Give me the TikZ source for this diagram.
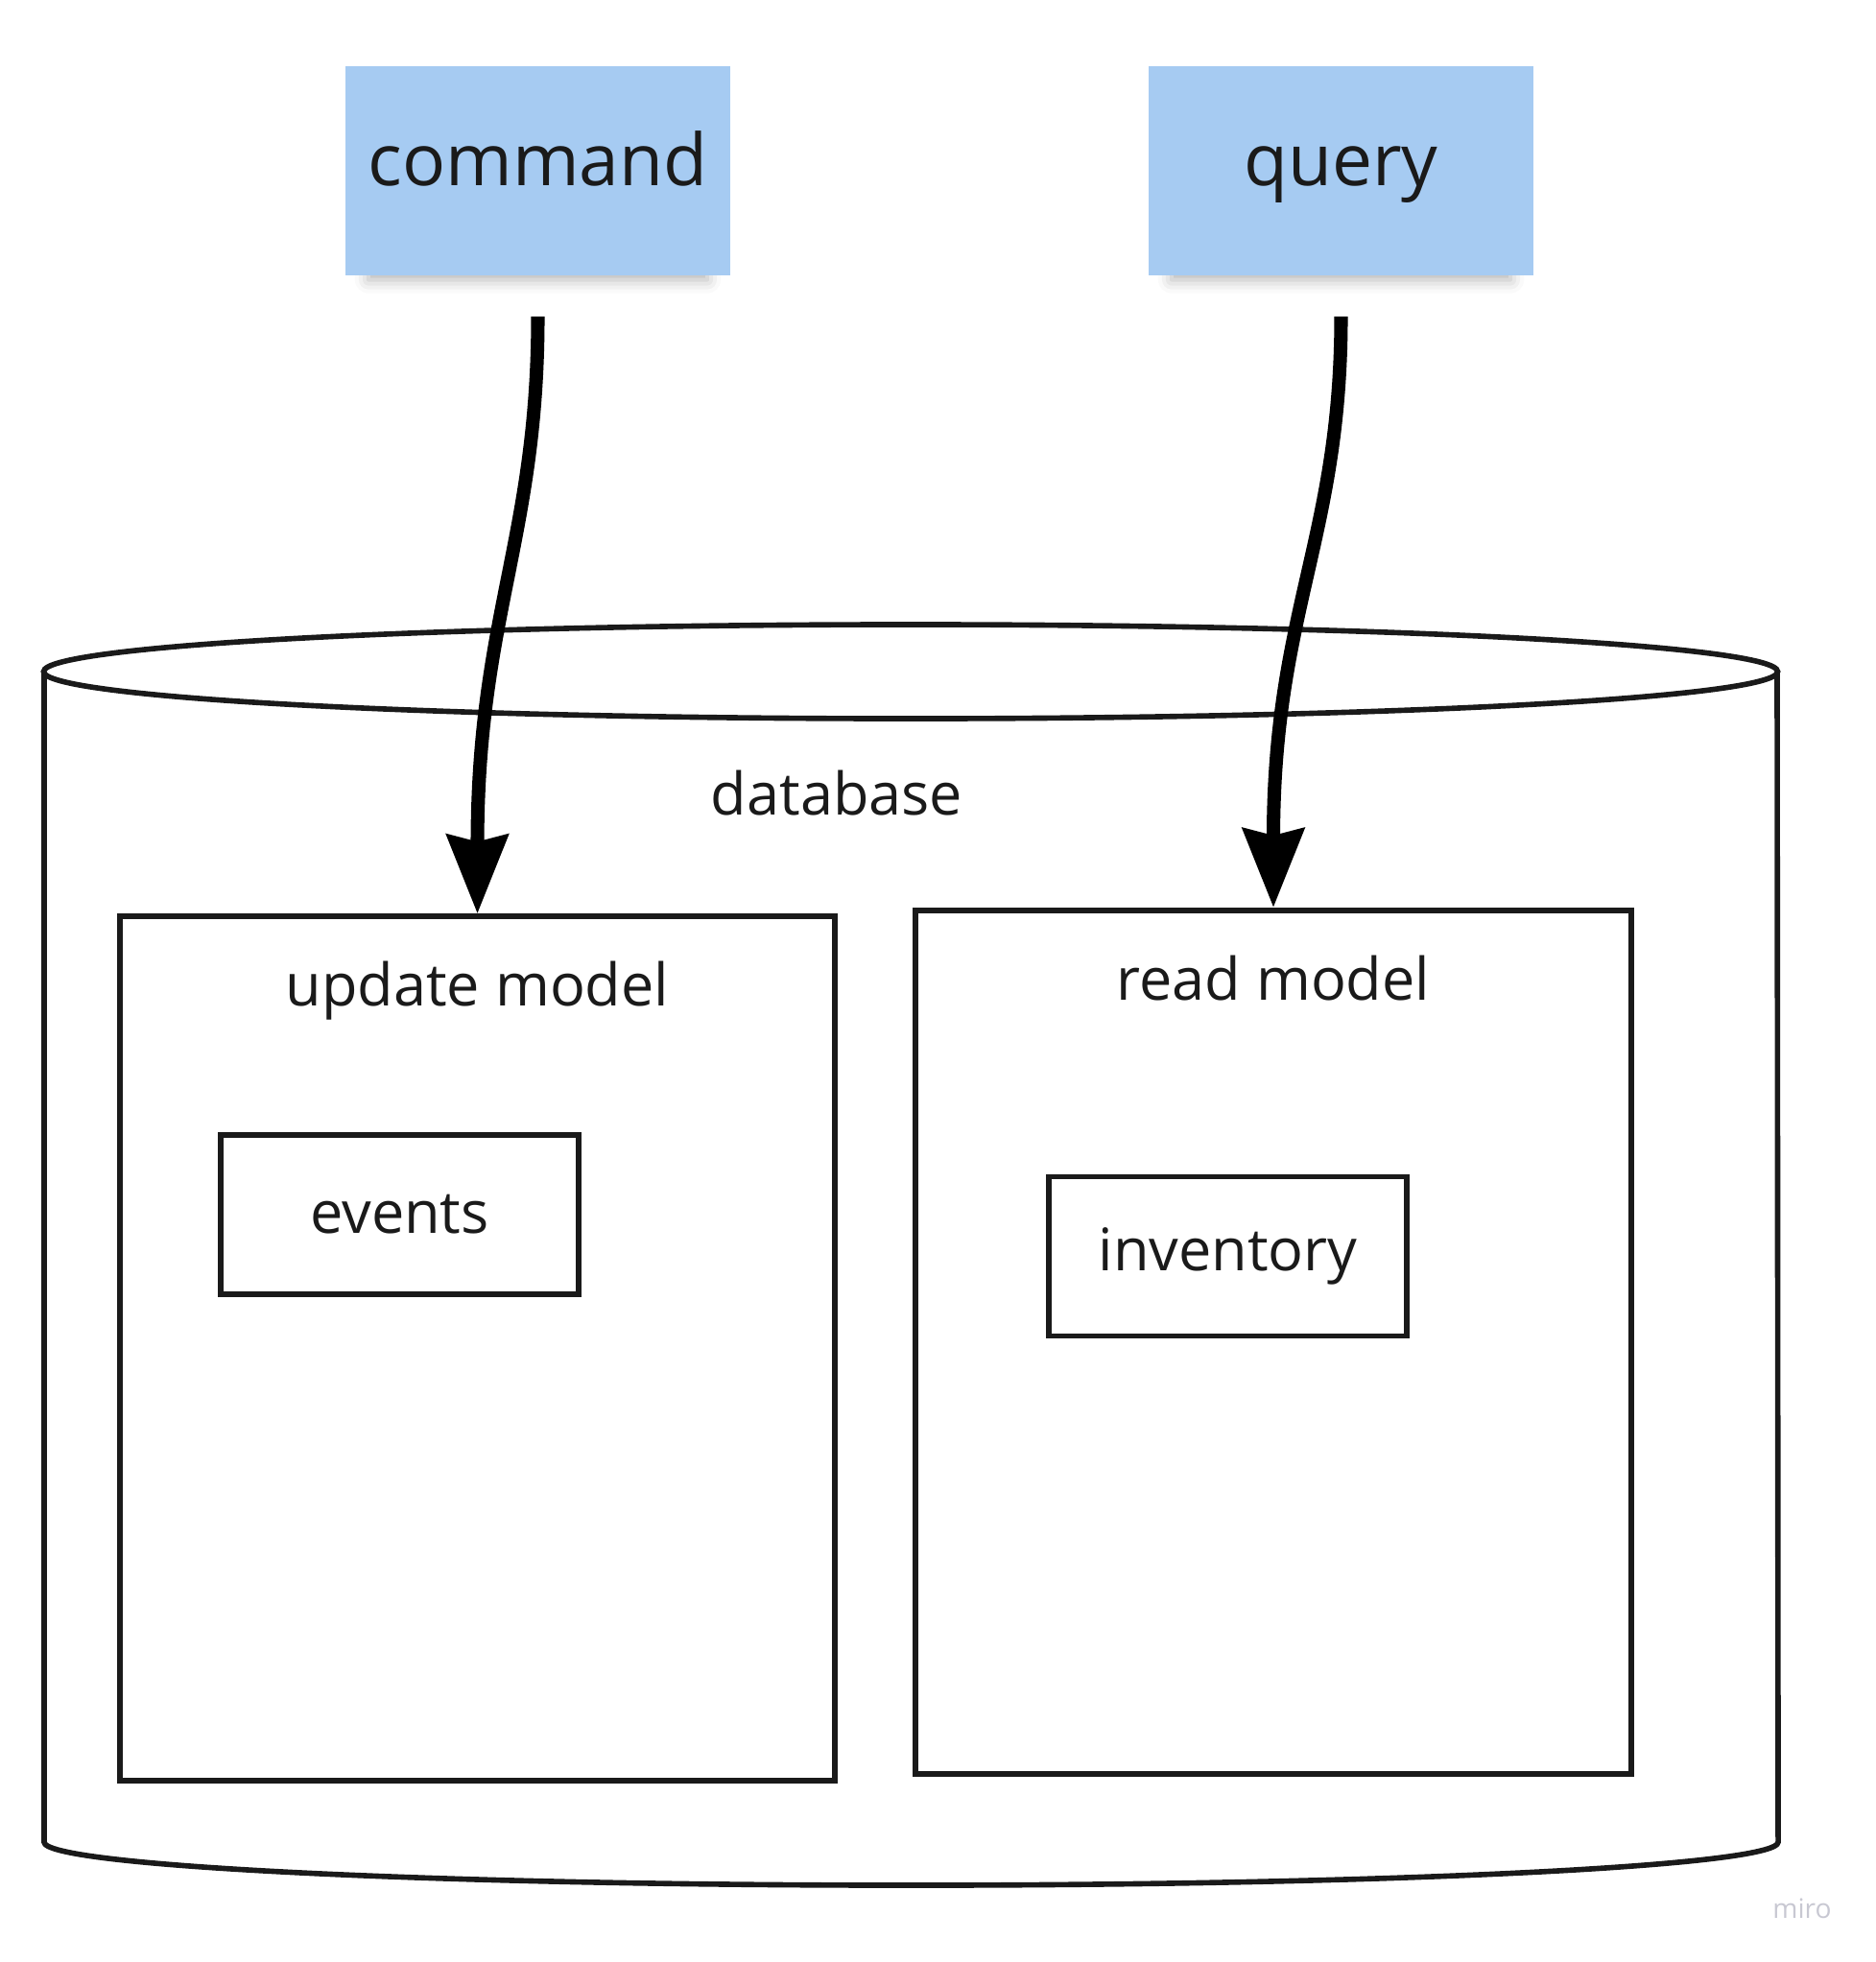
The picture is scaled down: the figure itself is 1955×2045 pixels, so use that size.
\documentclass[tikz,border=0pt]{standalone}
\usepackage{fontspec}
\setmainfont{Open Sans}
\usetikzlibrary{arrows.meta,positioning,shadows.blur}
\definecolor{sticky}{HTML}{A6CBF2}
\definecolor{ink}{HTML}{1A1A1A}
\definecolor{wmark}{HTML}{C8C8D2}
\tikzset{
    note/.style = {rectangle,fill=sticky,text=ink,minimum width=4.01cm,minimum height=2.18cm,
                   text height=0.55cm,text depth=0.25cm,font=\fontsize{21.3pt}{25pt}\selectfont,
                   blur shadow={shadow xshift=0pt,shadow yshift=-0.2cm,shadow scale=0.88,shadow opacity=30,shadow blur radius=0.16cm}},
    model/.style = {rectangle,draw=ink,line width=1.6pt,minimum width=7.45cm,minimum height=9cm},
    store/.style = {rectangle,draw=ink,line width=1.6pt,minimum width=3.73cm,minimum height=1.66cm,
                    text=ink,font=\fontsize{17.4pt}{21pt}\selectfont},
    lbl/.style = {text=ink,inner sep=0pt,font=\fontsize{17.4pt}{21pt}\selectfont},
    flow/.style = {-{Stealth[length=0.82cm,width=0.63cm,inset=0.07cm]},line width=4pt,black},
    db/.style = {draw=ink,line width=1.6pt}
}

\begin{document}
\begin{tikzpicture}[x=0.01cm,y=-0.01cm]
    \useasboundingbox (0,0) rectangle (1955,2045);

    % database cylinder
    \draw[db] (46,700) -- (46,1920) arc[start angle=180,end angle=360,x radius=9.03cm,y radius=0.45cm] -- (1852,700);
    \draw[db] (949,700) ellipse [x radius=9.03cm,y radius=0.49cm];
    \node[lbl]   (dbl)  at (872,827)       {database};

    \node[note]  (cmd)  at (560.5,178)     {command};
    \node[note]  (qry)  at (1397.5,178)    {query};

    \node[model] (upd)  at (497.5,1405.5)  {};
    \node[model] (rd)   at (1327,1399)     {};
    \node[lbl,anchor=base] (updl) at ([yshift=-0.96cm]upd.north) {update model};
    \node[lbl,anchor=base] (rdl)  at ([yshift=-0.97cm]rd.north)  {read model};

    \node[store] (ev)   at (416.5,1266)    {events};
    \node[store] (inv)  at (1279.5,1309.5) {inventory};

    \coordinate[below=0.42cm of cmd.south] (c0);
    \coordinate[below=0.42cm of qry.south] (q0);
    \draw[flow] (c0) .. controls +(0cm,-2.31cm) and +(0cm,3.09cm) .. (upd.north);
    \draw[flow] (q0) .. controls +(0cm,-2.31cm) and +(0cm,3.09cm) .. (rd.north);

    \node[text=wmark,font=\fontsize{8pt}{10pt}\selectfont] (mk) at (1878,1989) {miro};
\end{tikzpicture}
\end{document}
